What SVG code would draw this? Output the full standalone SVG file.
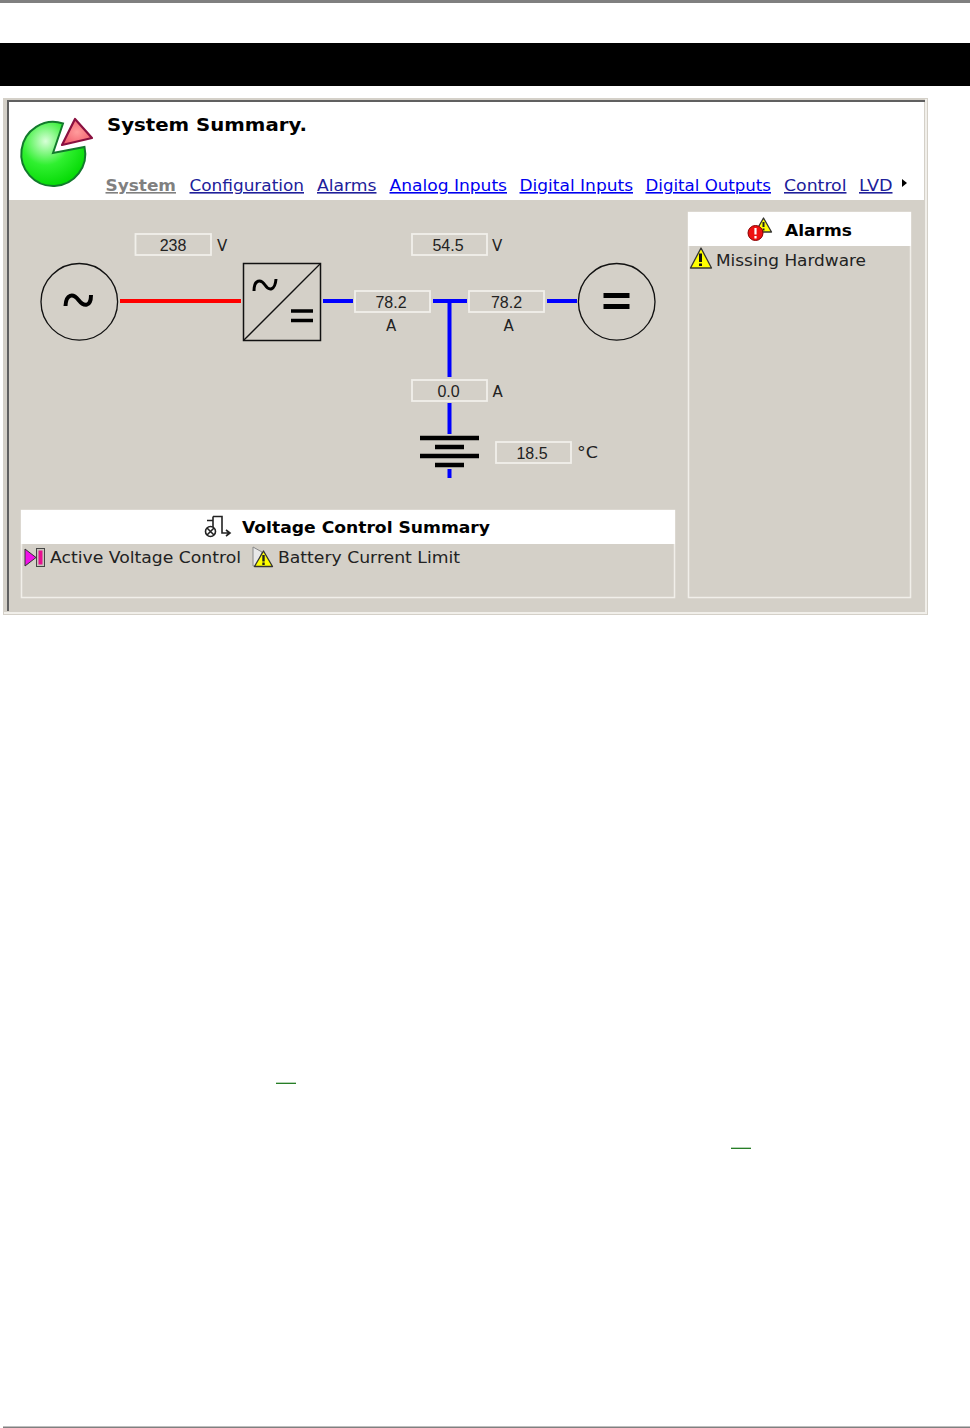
<svg xmlns="http://www.w3.org/2000/svg" width="970" height="1428" viewBox="0 0 970 1428">
<style>
text{font-family:"DejaVu Sans",Verdana,sans-serif;fill:#111}
.nav{font-size:16px;text-decoration:underline}
.dk{fill:#20209a}.br{fill:#0000f0}
.val{font-family:"Liberation Sans",Arial,sans-serif;font-size:16px;text-anchor:middle;fill:#222}
.unit{font-size:15px;fill:#222}
.box{fill:#d4d0c8;stroke:#f1efea;stroke-width:1.800}
.sym{fill:none;stroke:#111;stroke-width:1.300}
.glyph{fill:none;stroke:#000;stroke-width:4}
.hd{font-weight:bold;font-size:16px;fill:#000}
.item{font-size:16px;fill:#222}
.panel{fill:#d4d0c8;stroke:#f1efea;stroke-width:1.500}
.wire{fill:none;stroke-width:4}
.warn{fill:#ffff00;stroke:#333;stroke-width:1.300;stroke-linejoin:round}
</style>
<defs>
<radialGradient id="g" cx="0.38" cy="0.3" r="0.75"><stop offset="0" stop-color="#d8ffd8"/><stop offset="0.5" stop-color="#30f030"/><stop offset="1" stop-color="#00d800"/></radialGradient>
<radialGradient id="r" cx="0.5" cy="0.5" r="0.6"><stop offset="0" stop-color="#ff9c9c"/><stop offset="1" stop-color="#f05a6a"/></radialGradient>
</defs>
<rect width="970" height="1428" fill="#fff"/>
<rect x="0" y="0" width="970" height="3" fill="#808080"/>
<rect x="0" y="43" width="970" height="43" fill="#000"/>
<rect x="3" y="1426.500" width="967" height="1.500" fill="#808080"/>
<rect x="276" y="1082.700" width="20" height="1.200" fill="#107010"/>
<rect x="731" y="1147.700" width="20" height="1.200" fill="#107010"/>

<g id="window">
<rect x="3" y="98" width="925" height="517" fill="#d4d0c8"/>
<rect x="4" y="612" width="923" height="2" fill="#f1efea"/>
<rect x="925" y="99" width="2" height="515" fill="#f1efea"/>
<rect x="7" y="100" width="918" height="2" fill="#606060"/>
<rect x="7" y="100" width="2" height="511" fill="#606060"/>
<rect x="9" y="102" width="915" height="98" fill="#fff"/>
</g>

<g id="header">
<path d="M53 153L63 123.500A32 32 0 1 0 84.500 147Z" fill="url(#g)" stroke="#127a2c" stroke-width="2"/>
<path d="M62 145L75 119L92 138Z" fill="url(#r)" stroke="#8a1040" stroke-width="2.200" stroke-linejoin="round"/>
<text x="107" y="131" class="hd" style="font-size:18px" textLength="200" lengthAdjust="spacingAndGlyphs">System Summary.</text>
<text x="105.500" y="191" class="nav" style="fill:#808080;font-weight:bold" textLength="70.500" lengthAdjust="spacingAndGlyphs">System</text>
<text x="189.500" y="191" class="nav dk" textLength="114.500" lengthAdjust="spacingAndGlyphs">Configuration</text>
<text x="317" y="191" class="nav dk" textLength="59.500" lengthAdjust="spacingAndGlyphs">Alarms</text>
<text x="389.500" y="191" class="nav br" textLength="117.500" lengthAdjust="spacingAndGlyphs">Analog Inputs</text>
<text x="519.500" y="191" class="nav br" textLength="113.500" lengthAdjust="spacingAndGlyphs">Digital Inputs</text>
<text x="645.500" y="191" class="nav br" textLength="125.500" lengthAdjust="spacingAndGlyphs">Digital Outputs</text>
<text x="784" y="191" class="nav dk" textLength="62.500" lengthAdjust="spacingAndGlyphs">Control</text>
<text x="859" y="191" class="nav dk" textLength="33.500" lengthAdjust="spacingAndGlyphs">LVD</text>
<path d="M902 179L907 183L902 187Z" fill="#000"/>
</g>

<g id="connectors">
<path class="wire" stroke="#ff0000" d="M120 301H241"/>
<path class="wire" stroke="#0000ff" d="M323 301H353M433 301H467M547 301H577M449.500 301V377M449.500 403V434M449.500 469V478"/>
</g>

<g id="ac-source">
<circle class="sym" cx="79.300" cy="301.800" r="38.300"/>
<path class="glyph" d="M65.500 306C66 294 73 293 78.500 300C84 307 91 307 91 295"/>
</g>
<g id="rectifier">
<rect class="sym" x="243.500" y="263.500" width="77" height="77" style="stroke-width:1.500"/>
<path class="sym" d="M243.500 340.500L320.500 263.500"/>
<path class="glyph" d="M254 291C254 279 261 279 265 285C269 291 275 291 276 279" style="stroke-width:3"/>
<path class="glyph" d="M291 311H313M291 320.500H313" style="stroke-width:3.500"/>
</g>
<g id="dc-load">
<circle class="sym" cx="616.700" cy="301.800" r="38.300"/>
<path d="M603.500 295.500H629.500M603.500 306.500H629.500" fill="none" stroke="#000" stroke-width="4.800"/>
</g>
<g id="battery">
<path d="M420 438H479M435 447H464M420 456H479M435 465H464" fill="none" stroke="#000" stroke-width="4.500"/>
</g>

<g id="ac-voltage"><rect class="box" x="135.500" y="234" width="75.500" height="21"/><text class="val" x="173" y="250.500">238</text><text class="unit" x="217" y="251">V</text></g>
<g id="dc-voltage"><rect class="box" x="412" y="234" width="75" height="21"/><text class="val" x="448" y="250.500">54.5</text><text class="unit" x="492" y="251">V</text></g>
<g id="rect-current"><rect class="box" x="355" y="291" width="75" height="21"/><text class="val" x="391" y="307.500">78.2</text><text class="unit" x="386" y="331">A</text></g>
<g id="load-current"><rect class="box" x="469" y="291" width="75" height="21"/><text class="val" x="506.500" y="307.500">78.2</text><text class="unit" x="503.500" y="331">A</text></g>
<g id="batt-current"><rect class="box" x="412" y="380" width="75" height="21"/><text class="val" x="448.500" y="396.500">0.0</text><text class="unit" x="492.500" y="397">A</text></g>
<g id="batt-temp"><rect class="box" x="496" y="442" width="75" height="21"/><text class="val" x="532" y="458.500">18.5</text><text class="unit" x="577" y="458" textLength="21" lengthAdjust="spacingAndGlyphs">°C</text></g>

<g id="voltage-summary">
<rect class="panel" x="21.500" y="510.500" width="653" height="87"/>
<rect x="21" y="510" width="654" height="34" fill="#fff"/>
<g fill="none" stroke="#222" stroke-width="1.600">
<circle cx="210.500" cy="531.500" r="5"/>
<path d="M207 528L214 535M214 528L207 535M213 516.500H222V533H229M226 530L230 533L226 536M207 520.500H213M213 516.500V527"/>
</g>
<text class="hd" x="242" y="533" textLength="248" lengthAdjust="spacingAndGlyphs">Voltage Control Summary</text>
<rect x="36.500" y="548.500" width="8" height="18" fill="#c8c4bc" stroke="#444"/>
<path d="M25 549L36 557.500L25 566Z" fill="#f010e8" stroke="#333"/>
<rect x="38.500" y="550.500" width="4" height="14" fill="#e81090"/>
<text class="item" x="50" y="563" textLength="191" lengthAdjust="spacingAndGlyphs">Active Voltage Control</text>
<path d="M253 547L262 552L257 566H253Z" fill="#e8e8e8" stroke="#888"/>
<path class="warn" d="M263.500 551L272.500 566.500H254.500Z"/>
<path d="M263.500 555V561.500M263.500 562.500V565" stroke="#222" stroke-width="2.400"/>
<text class="item" x="278" y="563" textLength="182" lengthAdjust="spacingAndGlyphs">Battery Current Limit</text>
</g>

<g id="alarms">
<rect class="panel" x="688.500" y="212.500" width="222" height="385"/>
<rect x="688" y="212" width="223" height="34" fill="#fff"/>
<path class="warn" d="M763.500 218L771.500 232H755.500Z"/>
<path d="M763.500 222V227M763.500 228.500V230.500" stroke="#222" stroke-width="2"/>
<circle cx="755.500" cy="233" r="7.500" fill="#ee1111" stroke="#880000"/>
<path d="M755.500 228V234.500M755.500 236V238.500" stroke="#fff" stroke-width="2.200"/>
<text class="hd" x="785" y="236" textLength="67" lengthAdjust="spacingAndGlyphs">Alarms</text>
<path class="warn" d="M701 248L711.500 268H690.500Z"/>
<path d="M700.500 253.500V262M700.500 263.500V266" stroke="#111" stroke-width="3"/>
<text class="item" x="716" y="266" textLength="150" lengthAdjust="spacingAndGlyphs">Missing Hardware</text>
</g>
</svg>
